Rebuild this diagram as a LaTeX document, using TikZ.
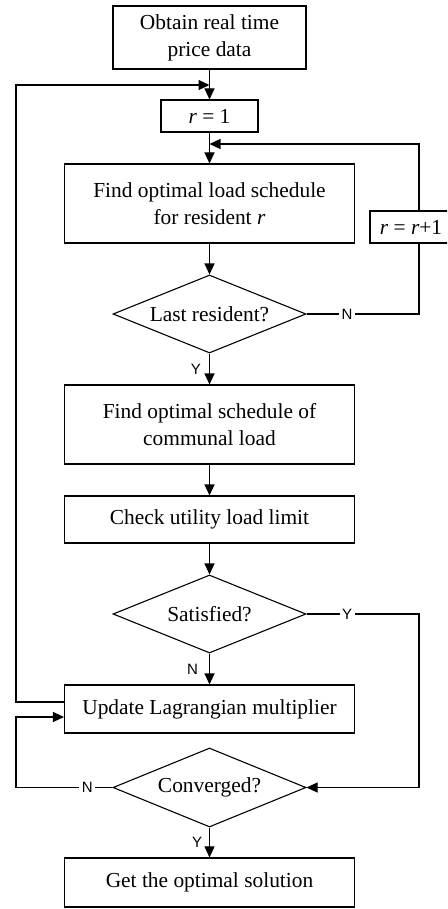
\documentclass[tikz,border=0pt]{standalone}
\usepackage{fontspec}
\setmainfont{Liberation Serif}
\newfontfamily\lblfont{Liberation Sans}
\usetikzlibrary{arrows.meta,shapes.geometric}
\begin{document}
\begin{tikzpicture}[x=1pt,y=-1pt,line width=1.1pt,
  every node/.style={font=\fontsize{21.4}{27}\selectfont},
  box/.style={draw,rectangle,inner sep=0pt,align=center},
  dia/.style={draw,diamond,aspect=2.47,inner sep=0pt,minimum width=193pt,minimum height=78pt,align=center},
  arr/.style={-{Triangle[width=10pt,length=11pt]}},
  lbl/.style={font=\lblfont\fontsize{15}{15}\selectfont,inner sep=0pt},
  gaplbl/.style={font=\lblfont\fontsize{15}{15}\selectfont,fill=white,inner sep=2.5pt}]
\clip (0,0) rectangle (447,909);
\node[box,minimum width=193pt,minimum height=63pt] (b1) at (209.5,37.5) {Obtain real time\\price data};
\node[box,minimum width=97pt,minimum height=32pt] (r1) at (209.5,116) {\textit{r} = 1};
\node[box,minimum width=290pt,minimum height=79pt] (b2) at (209.5,203.5) {Find optimal load schedule\\for resident \textit{r}};
\node[box,minimum width=82pt,minimum height=32pt] (rr) at (411,227) {\textit{r} = \textit{r}+1};
\node[dia] (d1) at (209.5,314) {Last resident?};
\node[box,minimum width=290pt,minimum height=79pt] (b3) at (209.5,424.5) {Find optimal schedule of\\communal load};
\node[box,minimum width=290pt,minimum height=47pt] (b4) at (209.5,519.5) {Check utility load limit};
\node[dia] (d2) at (209.5,614) {Satisfied?};
\node[box,minimum width=290pt,minimum height=48pt] (b5) at (209.5,709) {Update Lagrangian multiplier};
\node[dia,minimum height=79pt] (d3) at (209.5,787.5) {Converged?};
\node[box,minimum width=290pt,minimum height=49pt] (b6) at (209.5,882.5) {Get the optimal solution};
\coordinate (L1) at (16,85);
\coordinate (J1) at (209.5,85);
\coordinate (R1) at (419,314);
\coordinate (R2) at (419,144);
\coordinate (J2) at (209.5,144);
\coordinate (R3) at (419,614);
\coordinate (R4) at (419,787.5);
\coordinate (L3) at (16,787.5);
\coordinate (L4) at (16,717);
\draw[arr] (b1.south) -- (r1.north);
\draw[arr] ([yshift=7pt]b5.west) -| (L1) -- (J1);
\draw[arr] (r1.south) -- (b2.north);
\draw[arr] (b2.south) -- (d1.north);
\draw (d1.east) -- node[gaplbl,pos=0.36]{N} (R1) -- (rr.south -| R1);
\draw[arr] (rr.north -| R1) -- (R2) -- (J2);
\draw[arr] (d1.south) -- node[lbl,midway,left=8pt]{Y} (b3.north);
\draw[arr] (b3.south) -- (b4.north);
\draw[arr] (b4.south) -- (d2.north);
\draw[arr] (d2.east) -- node[gaplbl,pos=0.36]{Y} (R3) -- (R4) -- (d3.east);
\draw[arr] (d2.south) -- node[lbl,midway,left=11pt]{N} (b5.north);
\draw[arr] (d3.west) -- node[gaplbl,pos=0.26]{N} (L3) -- (L4) -- ([yshift=-8pt]b5.west);
\draw[arr,line width=0.6pt] (d3.south) -- node[lbl,midway,left=7pt]{Y} (b6.north);
\end{tikzpicture}
\end{document}
